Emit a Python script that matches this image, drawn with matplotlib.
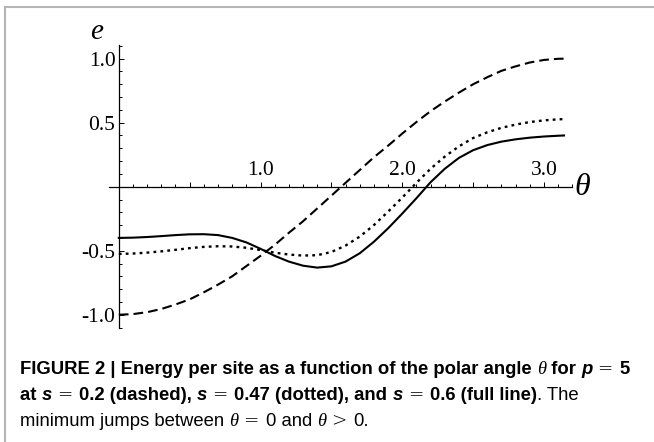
import matplotlib
matplotlib.use("Agg")
import matplotlib.pyplot as plt
from matplotlib.lines import Line2D
from matplotlib.ticker import FixedLocator, FixedFormatter, MultipleLocator
from matplotlib import font_manager

# polar angle and energy per site
theta = [0.0, 0.1, 0.2, 0.3, 0.4, 0.5, 0.6, 0.7, 0.8, 0.9, 1.0, 1.1, 1.2, 1.3, 1.4, 1.5,
         1.6, 1.7, 1.8, 1.9, 2.0, 2.1, 2.2, 2.3, 2.4, 2.5, 2.6, 2.7, 2.8, 2.9, 3.0, 3.1, 3.1416]
e_dashed = [-1.00, -0.995, -0.98, -0.955, -0.92, -0.88, -0.825, -0.765, -0.70, -0.62, -0.54,
            -0.455, -0.36, -0.27, -0.17, -0.07, 0.03, 0.13, 0.23, 0.32, 0.415, 0.505, 0.59,
            0.665, 0.735, 0.80, 0.855, 0.905, 0.94, 0.97, 0.99, 0.999, 1.00]
e_dotted = [-0.525, -0.522, -0.515, -0.505, -0.493, -0.48, -0.47, -0.465, -0.467, -0.477,
            -0.495, -0.515, -0.53, -0.538, -0.535, -0.51, -0.46, -0.39, -0.30, -0.195,
            -0.085, 0.03, 0.14, 0.235, 0.315, 0.38, 0.425, 0.46, 0.485, 0.505, 0.518, 0.526, 0.528]
e_full = [-0.40, -0.398, -0.393, -0.386, -0.378, -0.372, -0.371, -0.378, -0.40, -0.435,
          -0.485, -0.54, -0.585, -0.617, -0.632, -0.622, -0.585, -0.52, -0.43, -0.325,
          -0.21, -0.09, 0.035, 0.14, 0.225, 0.285, 0.325, 0.352, 0.37, 0.383, 0.392, 0.398, 0.40]

xticks = [0.5, 1.0, 1.5, 2.0, 2.5, 3.0]
xticklabels = ["", "1.0", "", "2.0", "", "3.0"]
yticks = [-1.0, -0.5, 0.5, 1.0]
yticklabels = ["-1.0", "-0.5", "0.5", "1.0"]

W, H = 654, 442
plt.rcParams['lines.scale_dashes'] = False
serif = 'Liberation Serif'

fig = plt.figure(figsize=(W / 100, H / 100), dpi=100)
ax = fig.add_axes([0.16108, 0.25317, 0.72484, 0.64887])
ax.patch.set_alpha(0)

ax.plot(theta, e_dashed, color='black', lw=1.5, dashes=(7.0, 3.6))
ax.plot(theta, e_dotted, color='black', lw=1.7, dashes=(2.0, 3.0))
ax.plot(theta, e_full, color='black', lw=1.5)

ax.set_xlim(-0.095, 3.25)
ax.set_ylim(-1.12, 1.12)

# axes crossing at the origin, mathematica style
ax.spines['left'].set_position(('data', 0))
ax.spines['bottom'].set_position(('data', 0))
ax.spines['top'].set_position(('data', 0))
ax.spines['right'].set_visible(False)
ax.spines['top'].set_visible(False)
ax.spines['left'].set_bounds(-1.107, 1.11)
ax.spines['bottom'].set_bounds(-0.07, 3.2)
for s in ['left', 'bottom']:
    ax.spines[s].set_linewidth(0.9)

ax.xaxis.set_major_locator(FixedLocator(xticks))
ax.xaxis.set_major_formatter(FixedFormatter(xticklabels))
ax.xaxis.set_minor_locator(MultipleLocator(0.1))
ax.yaxis.set_major_locator(FixedLocator(yticks))
ax.yaxis.set_major_formatter(FixedFormatter(yticklabels))
ax.yaxis.set_minor_locator(MultipleLocator(0.1))

ax.tick_params(axis='x', which='both', direction='in', top=False, bottom=True,
               labeltop=True, labelbottom=False, width=0.7, pad=5.0)
ax.tick_params(axis='y', which='both', direction='in', left=True, right=False,
               width=0.7, pad=2.4)
ax.tick_params(which='major', length=3.4, labelsize=15.5, labelfontfamily=serif)
ax.tick_params(which='minor', length=2.2)

ax.text(3.27, -0.01, "θ", family=serif, style='italic', fontsize=23,
        ha='center', va='center', clip_on=False)
ax.text(-0.16, 1.21, "e", family=serif, style='italic', fontsize=21,
        ha='center', va='center', clip_on=False)

# light grey frame (top and left edges)
fig.add_artist(Line2D([5 / W, 1.0], [1 - 6.5 / H, 1 - 6.5 / H], color='#b5b5b5', lw=1.5))
fig.add_artist(Line2D([5 / W, 5 / W], [1 - 6.5 / H, 0.0], color='#b5b5b5', lw=1.5))

# caption, drawn piece by piece
names = {f.name for f in font_manager.fontManager.ttflist}
sans = 'Liberation Sans Narrow' if 'Liberation Sans Narrow' in names else 'Liberation Sans'
renderer = fig.canvas.get_renderer()

B = dict(family=sans, weight='bold')
BI = dict(family=sans, weight='bold', style='italic')
R = dict(family=sans)
RM = dict(family='DejaVu Sans', weight='light')
TH = dict(family=serif, style='italic')

line1 = [("FIGURE 2 | Energy per site as a function of the polar angle ", B), ("θ", TH),
         (" for ", B), ("p", BI), (" = ", RM), ("5", B)]
line2 = [("at ", B), ("s", BI), (" = ", RM), ("0.2 (dashed), ", B), ("s", BI), (" = ", RM),
         ("0.47 (dotted), and ", B), ("s", BI), (" = ", RM), ("0.6 (full line)", B), (". The", R)]
line3 = [("minimum jumps between ", R), ("θ", TH), (" = ", RM), ("0 and ", R), ("θ", TH),
         (" > ", RM), ("0.", R)]


def seg_width(txt, props, size):
    t = fig.text(0, 0, txt + "|", fontsize=size, **props)
    b = fig.text(0, 0, "|", fontsize=size, **props)
    w = t.get_window_extent(renderer).width - b.get_window_extent(renderer).width
    t.remove()
    b.remove()
    return w


def line_width(segs, size):
    return sum(seg_width(t, p, size) for t, p in segs)


def draw_line(segs, y, size, x0=20):
    x = x0
    for txt, props in segs:
        fig.text(x / W, 1 - y / H, txt, fontsize=size, ha='left', va='baseline', **props)
        x += seg_width(txt, props, size)


size = 11.0
size = size * 614 / line_width(line1, size)
draw_line(line1, 373.5, size)
draw_line(line2, 400.5, size)
draw_line(line3, 426.0, size)

fig.savefig("out.png", dpi=100)
